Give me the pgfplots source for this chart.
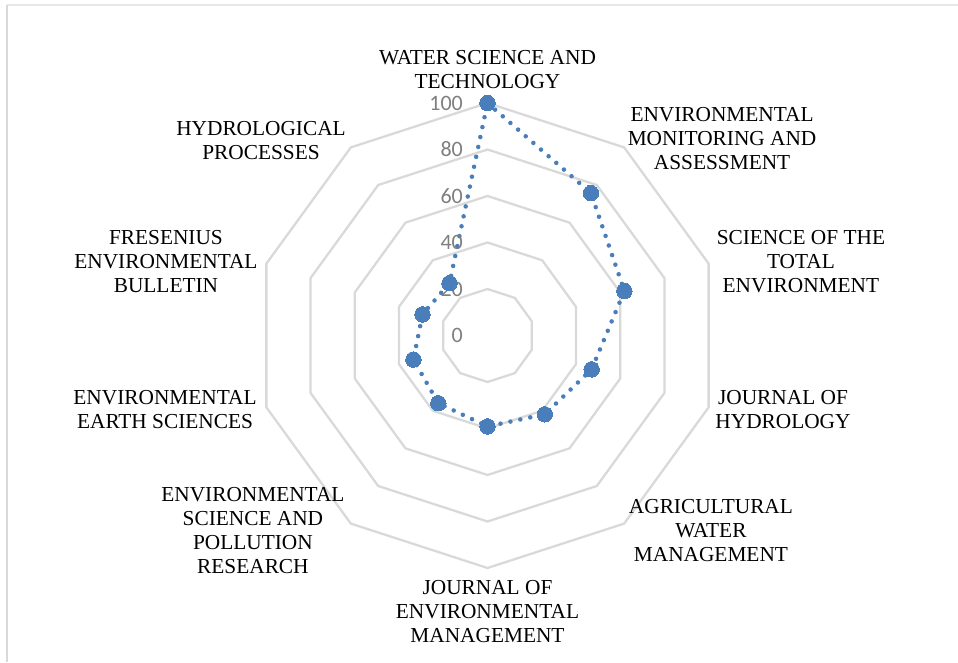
\documentclass[border=0pt]{standalone}
\usepackage{fontspec}
\setmainfont{Liberation Serif}
\newfontfamily\calibri{Carlito}
\usepackage{pgfplots}
\usepackage{pgfplotstable}
\pgfplotsset{compat=1.18}
\definecolor{ringgray}{HTML}{D9D9D9}
\definecolor{series}{HTML}{4A7EBB}
\definecolor{ticktext}{HTML}{7F7F7F}
\tikzset{
  catlabel/.style={align=center, font=\fontsize{16}{18}\selectfont, inner sep=0pt},
  ticklab/.style={anchor=east, inner sep=0pt, text=ticktext, font=\calibri\fontsize{16.5}{18}\selectfont}
}

\pgfplotstableread{
angle value
90   100
54   75.7
18   61.9
-18  47.1
-54  41.9
-90  39.1
-126 36.0
-162 33.5
162  29.4
126  27.8
90   100
}\datatable

\begin{document}
\begin{tikzpicture}
\useasboundingbox (0,0) rectangle (718.5pt,496.5pt);
\fill[white] (0,0) rectangle (718.5pt,496.5pt);
\draw[color=black!9, line width=1pt] (5.25pt,492.75pt) -- (718.5pt,492.75pt);
\draw[color=black!15, line width=1.5pt] (5.25pt,492.75pt) -- (5.25pt,0pt);
\begin{axis}[at={(365.625pt,244.875pt)}, anchor=origin,
  x=1.74375pt, y=1.74375pt, xmin=-150, xmax=150, ymin=-130, ymax=130,
  hide axis, clip=false]
\pgfplotsinvokeforeach{20,40,60,80,100}{
  \addplot[data cs=polar, color=ringgray, line width=1.7pt, line join=miter, mark=none]
    coordinates {(90,#1) (54,#1) (18,#1) (-18,#1) (-54,#1) (-90,#1) (-126,#1) (-162,#1) (-198,#1) (-234,#1) (-270,#1) (-306,#1)};
}
\addplot[data cs=polar, color=series, line width=3.4pt, line cap=round, dash pattern=on 0pt off 7.6pt,
  mark=*, mark size=5.8pt, mark options={solid, fill=series, draw=series, line width=0pt}]
  table[x=angle, y=value] {\datatable};
\node[ticklab] at (axis cs:-10.5,100) {100};
\node[ticklab] at (axis cs:-10.5,80) {80};
\node[ticklab] at (axis cs:-10.5,60) {60};
\node[ticklab] at (axis cs:-10.5,40) {40};
\node[ticklab] at (axis cs:-10.5,20) {20};
\node[ticklab] at (axis cs:-10.5,0) {0};
\node[catlabel] at (axis cs:0,114.4) {WATER SCIENCE AND\\TECHNOLOGY};
\node[catlabel] at (axis cs:100.9,84.5) {ENVIRONMENTAL\\MONITORING AND\\ASSESSMENT};
\node[catlabel] at (axis cs:134.8,32.0) {SCIENCE OF THE\\TOTAL\\ENVIRONMENT};
\node[catlabel] at (axis cs:127.1,-32.0) {JOURNAL OF\\HYDROLOGY};
\node[catlabel] at (axis cs:96.1,-84.1) {AGRICULTURAL\\WATER\\MANAGEMENT};
\node[catlabel] at (axis cs:0,-118.9) {JOURNAL OF\\ENVIRONMENTAL\\MANAGEMENT};
\node[catlabel] at (axis cs:-100.9,-83.7) {ENVIRONMENTAL\\SCIENCE AND\\POLLUTION\\RESEARCH};
\node[catlabel] at (axis cs:-138.7,-31.8) {ENVIRONMENTAL\\EARTH SCIENCES};
\node[catlabel] at (axis cs:-138.3,31.8) {FRESENIUS\\ENVIRONMENTAL\\BULLETIN};
\node[catlabel] at (axis cs:-97.4,83.9) {HYDROLOGICAL\\PROCESSES};
\end{axis}
\end{tikzpicture}
\end{document}
